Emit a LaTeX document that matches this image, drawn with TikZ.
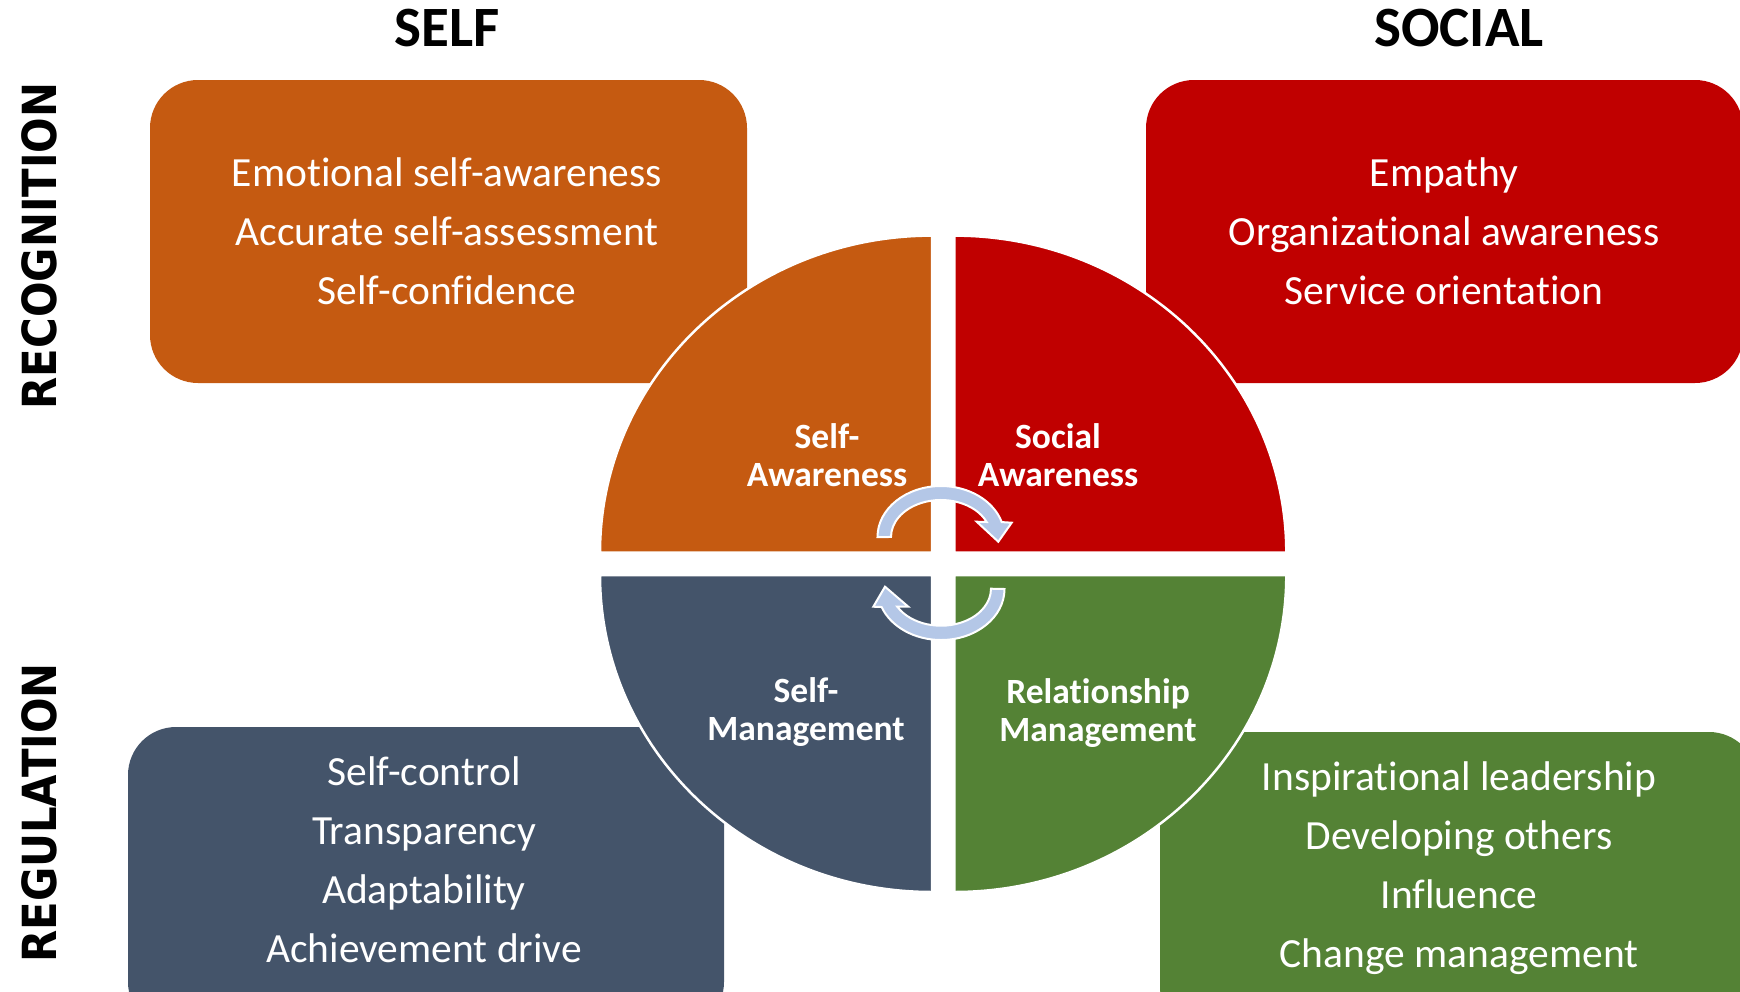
\documentclass[tikz,border=0pt]{standalone}
\usepackage{fontspec}
\usepackage{graphicx}
\setmainfont{Carlito}[Ligatures={NoCommon}]
\newfontfamily\labelfont{DejaVu Sans}

\definecolor{qorange}{HTML}{C55A11}
\definecolor{qred}{HTML}{C00000}
\definecolor{qslate}{HTML}{44546A}
\definecolor{qgreen}{HTML}{548235}
\definecolor{arrowblue}{HTML}{B4C7E7}

\tikzset{
  itembox/.style={rounded corners=48pt},
  itemtext/.style={text=white, align=center, inner sep=0pt,
    font=\fontsize{41.5}{59}\selectfont},
  quadtext/.style={text=white, align=center, inner sep=0pt,
    font=\bfseries\fontsize{35.5}{37.7}\selectfont},
  quadrant/.style={draw=white, line width=2.5pt},
  cyclearrow/.style={fill=arrowblue, draw=white, line width=2pt, line join=miter},
  heading/.style={inner sep=0pt, font=\bfseries\fontsize{57}{60}\selectfont},
  sidelabel/.style={rotate=90, inner sep=0pt,
    font=\labelfont\bfseries\fontsize{47}{50}\selectfont},
}

\begin{document}
\begin{tikzpicture}[x=1pt, y=-1pt]
  \useasboundingbox (0,0) rectangle (1740,991);
  \clip (0,0) rectangle (1740,991);

  % competency boxes
  \fill[qorange, itembox] (150,80) rectangle (747,383);
  \fill[qred, itembox] (1146,80) rectangle (1743,383);
  \fill[qslate, itembox] (128,727) rectangle (724,1030);
  \fill[qgreen, itembox] (1160,732) rectangle (1757,1035);

  % the four quadrants of the central disc
  \filldraw[quadrant, fill=qorange] (932,552.6) -- (600,552.6)
    arc[start angle=180, end angle=270, x radius=332, y radius=317] -- cycle;
  \filldraw[quadrant, fill=qred] (954.3,552.6) -- (954.3,235.6)
    arc[start angle=270, end angle=360, x radius=332, y radius=317] -- cycle;
  \filldraw[quadrant, fill=qslate] (932,575) -- (600,575)
    arc[start angle=180, end angle=90, x radius=332, y radius=317] -- cycle;
  \filldraw[quadrant, fill=qgreen] (954.3,575) -- (1286.3,575)
    arc[start angle=0, end angle=90, x radius=332, y radius=317] -- cycle;

  % circular arrows around the centre
  \filldraw[cyclearrow] (877.5,537)
    arc[start angle=180, end angle=343, x radius=63.5, y radius=51]
    -- (1011.7,522.7) -- (998.3,541.7) -- (976.7,521.7) -- (986.7,522)
    arc[start angle=336.1, end angle=180, x radius=50, y radius=37] -- cycle;
  \filldraw[cyclearrow] (1004.5,589)
    arc[start angle=0, end angle=159.3, x radius=63.5, y radius=51]
    -- (873.3,606.7) -- (885,586.7) -- (908.3,606.7) -- (897.3,606.7)
    arc[start angle=150.9, end angle=0, x radius=50, y radius=37] -- cycle;

  % headings
  \node[heading] (selfhead) at (447,28) {SELF};
  \node[heading] (socialhead) at (1459,28) {SOCIAL};
  \node[sidelabel] (recognition) at (39,246) {\scalebox{0.89}[1]{RECOGNITION}};
  \node[sidelabel] (regulation) at (39,813) {\scalebox{0.89}[1]{REGULATION}};

  % box contents
  \node[itemtext] (selfrec) at (447,231)
    {Emotional self-awareness\\Accurate self-assessment\\Self-confidence};
  \node[itemtext] (socialrec) at (1444,231)
    {Empathy\\Organizational awareness\\Service orientation};
  \node[itemtext] (selfreg) at (424,860)
    {Self-control\\Transparency\\Adaptability\\Achievement drive};
  \node[itemtext] (socialreg) at (1459,868)
    {Inspirational leadership\\Developing others\\Influence\\Change management};

  % quadrant titles
  \node[quadtext] (selfaware) at (827,455) {Self-\\Awareness};
  \node[quadtext] (socialaware) at (1058,455) {Social\\Awareness};
  \node[quadtext] (selfmanage) at (806,712) {Self-\\Management};
  \node[quadtext] (relmanage) at (1098,713) {Relationship\\Management};
\end{tikzpicture}
\end{document}
